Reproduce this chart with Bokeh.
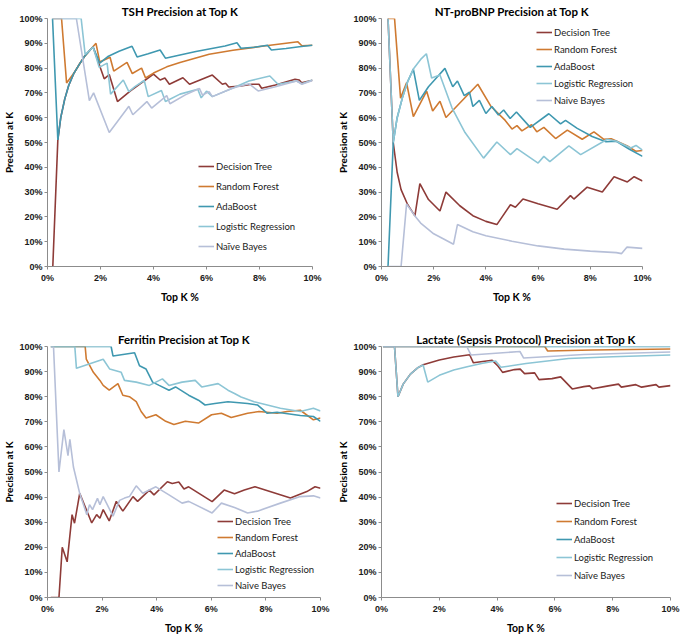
from bokeh.plotting import figure
from bokeh.layouts import row, column
from bokeh.models import Range1d, FixedTicker
from bokeh.embed import file_html
from bokeh.resources import INLINE

# ---------------- data ----------------
x_ticks = [0, 2, 4, 6, 8, 10]
x_tick_labels = ["0%", "2%", "4%", "6%", "8%", "10%"]
y_ticks = [0, 10, 20, 30, 40, 50, 60, 70, 80, 90, 100]
y_tick_labels = ["0%", "10%", "20%", "30%", "40%", "50%", "60%", "70%", "80%", "90%", "100%"]

models_a = ["Decision Tree", "Random Forest", "AdaBoost", "Logistic Regression", "Naïve Bayes"]
models_b = ["Decision Tree", "Random Forest", "AdaBoost", "Logistic Regression", "Naive Bayes"]
colors = ["#8E3B38", "#CF7A31", "#3F98B0", "#8CC5D5", "#B6BFD8"]

# TSH
tsh_dt_x = [0.2, 0.39, 0.5, 0.65, 0.8, 1.0, 1.2, 1.4, 1.6, 1.72, 2.14, 2.33, 2.64, 3.13, 3.6, 4.0, 4.25, 4.43, 4.6, 5.11, 5.36, 6.22, 6.6, 6.72, 6.84, 7.3, 7.71, 7.98, 8.08, 8.6, 9.34, 9.5, 9.59, 10.0]
tsh_dt_y = [0, 51, 60, 67.5, 73, 78, 81.5, 84.8, 87.2, 88.5, 75.7, 77.4, 66.5, 70.8, 74.5, 77.6, 75.2, 76, 73.5, 76.1, 73.5, 77.2, 73.5, 73.9, 72.4, 72.8, 73.5, 73.5, 71.9, 73.2, 75.5, 75.2, 74.1, 75.1]
tsh_rf_x = [0.19, 0.53, 0.72, 1.0, 1.2, 1.4, 1.6, 1.83, 1.97, 2.36, 2.5, 3.0, 3.2, 3.55, 3.7, 4.0, 4.5, 5.0, 5.5, 6.1, 7.0, 8.1, 9.0, 9.45, 9.6, 10.0]
tsh_rf_y = [100, 100, 74, 78, 81.5, 84.8, 87.2, 90, 82.5, 84.4, 78.8, 82.3, 77.8, 80, 76, 78, 80.5, 82.3, 83.8, 85.6, 87.2, 88.8, 90, 90.6, 89, 89.2]
tsh_ada_x = [0.19, 0.39, 0.5, 0.65, 0.8, 1.0, 1.2, 1.4, 1.6, 1.72, 1.97, 2.3, 2.7, 3.19, 3.38, 3.8, 4.25, 4.45, 5.0, 5.6, 6.2, 6.7, 7.15, 7.3, 7.8, 8.3, 8.45, 9.0, 9.5, 10.0]
tsh_ada_y = [100, 51, 60, 67.5, 73, 78, 81.5, 84.8, 87.2, 88.5, 82, 84.8, 86.8, 88.8, 84.5, 85.8, 87.3, 84, 85.3, 86.7, 87.9, 88.9, 90.2, 88, 88.4, 89.2, 87.3, 87.9, 88.6, 89.2]
tsh_lr_x = [0.19, 1.27, 1.42, 1.6, 1.72, 1.95, 2.25, 2.38, 2.86, 3.07, 3.3, 3.65, 3.8, 4.3, 4.45, 5.0, 5.67, 5.8, 6.0, 6.22, 7.0, 7.6, 8.39, 8.7, 9.4, 9.6, 10.0]
tsh_lr_y = [100, 100, 85.5, 87.2, 88.5, 80.3, 82, 69.5, 75.2, 70.5, 72.5, 75, 68.5, 71, 66.5, 69.5, 71.5, 68, 70.7, 68.5, 72, 74.8, 76.8, 73.5, 74.8, 73.7, 75.2]
tsh_nb_x = [0.19, 1.09, 1.58, 1.74, 2.33, 3.07, 3.22, 3.75, 3.93, 4.5, 4.62, 5.2, 5.73, 5.85, 6.1, 6.22, 7.0, 7.6, 7.95, 8.6, 9.4, 9.6, 10.0]
tsh_nb_y = [100, 100, 66.9, 70, 54, 64.6, 61.2, 66.5, 63.9, 68.9, 65.6, 69.2, 71.8, 69.1, 70.5, 68.5, 72, 73.7, 70.8, 72.5, 74.8, 73.5, 75]

# NT-proBNP
nt_dt_x = [0.25, 0.45, 0.6, 0.75, 1.0, 1.28, 1.47, 1.8, 2.24, 2.47, 3.0, 3.5, 4.0, 4.42, 4.94, 5.13, 5.42, 6.0, 6.73, 7.24, 7.37, 7.88, 8.46, 8.91, 9.42, 9.68, 10.0]
nt_dt_y = [100, 50, 38, 31, 25, 20.4, 33.4, 27, 22.4, 30, 24.5, 20.5, 18.2, 16.9, 24.9, 23.9, 27.2, 25.3, 23.1, 28.6, 27.2, 32, 30, 36.2, 34.1, 36.2, 34.5]
nt_rf_x = [0.25, 0.5, 0.73, 0.96, 1.22, 1.73, 1.96, 2.24, 2.47, 3.69, 4.2, 4.74, 5.0, 5.19, 5.38, 5.75, 5.95, 6.22, 6.67, 7.12, 7.69, 8.14, 8.52, 8.8, 9.42, 9.74, 10.0]
nt_rf_y = [100, 100, 67.9, 74.1, 60.4, 70.7, 62.7, 66.6, 60.1, 73.5, 64.5, 58.9, 55.4, 56.8, 54.7, 57.2, 54.3, 56.1, 51.6, 55, 51.3, 54.3, 51.3, 51.5, 48.6, 46.5, 46.8]
nt_ada_x = [0.25, 0.45, 0.6, 0.8, 1.0, 1.22, 1.45, 1.8, 2.1, 2.43, 2.73, 2.91, 3.17, 3.37, 3.5, 3.75, 4.0, 4.23, 4.48, 4.68, 4.93, 5.17, 5.7, 6.41, 6.86, 7.05, 7.5, 8.07, 8.6, 9.0, 9.5, 10.0]
nt_ada_y = [0, 50, 60, 68, 74.5, 79.6, 67, 72.5, 76, 79.9, 72.5, 74.8, 68.9, 70.3, 64.5, 67, 61.7, 64.5, 61.1, 63.1, 59.7, 62.3, 56.1, 61.6, 57.5, 58.9, 55.7, 52.4, 50.3, 50.5, 47.3, 44.4]
nt_lr_x = [0.25, 0.45, 0.6, 0.8, 1.0, 1.22, 1.5, 1.72, 1.92, 2.24, 2.7, 3.2, 3.91, 4.42, 4.94, 5.19, 6.0, 6.22, 6.45, 7.18, 7.63, 8.65, 9.0, 9.55, 9.75, 10.0]
nt_lr_y = [100, 50, 60, 68, 74.5, 79.6, 83.5, 85.8, 76, 77.2, 64, 54, 43.7, 50.2, 45.1, 47.5, 41.7, 44.4, 42.3, 48.6, 45.1, 51.3, 50.5, 47.8, 48.8, 46.9]
nt_nb_x = [0.25, 0.75, 0.96, 1.28, 1.5, 2.0, 2.4, 2.76, 2.91, 3.5, 4.0, 5.0, 6.0, 7.0, 8.0, 9.0, 9.2, 9.4, 10.0]
nt_nb_y = [0, 0, 25.2, 20.4, 17.5, 13.2, 11, 9, 16.9, 14, 12.4, 10.2, 8.3, 7, 6.2, 5.6, 5.2, 7.8, 7.3]

# Ferritin
fe_dt_x = [0.12, 0.42, 0.54, 0.72, 0.9, 0.99, 1.18, 1.62, 1.8, 1.92, 2.04, 2.26, 2.52, 2.76, 3.13, 3.3, 3.73, 3.9, 4.39, 4.57, 4.81, 5.0, 5.17, 6.03, 6.47, 6.85, 7.21, 7.6, 8.9, 9.5, 9.8, 10.0]
fe_dt_y = [0, 0, 20, 14.2, 33, 29.6, 41.5, 29.7, 33, 31.6, 35, 30.5, 38.3, 34.4, 40.2, 38.3, 42.8, 40.9, 46.1, 45.4, 46, 43.2, 44.1, 38.2, 42.8, 41.3, 42.8, 44.1, 39.6, 42.2, 44.1, 43.5]
fe_rf_x = [0.12, 1.38, 1.42, 1.68, 1.92, 2.04, 2.26, 2.58, 2.76, 3.0, 3.25, 3.43, 3.61, 3.97, 4.33, 4.63, 5.05, 5.53, 6.01, 6.37, 6.73, 7.33, 7.75, 8.41, 8.77, 9.26, 9.74, 10.0]
fe_rf_y = [100, 100, 95, 89.7, 86.5, 84.5, 82.6, 85.2, 80.6, 80, 78, 74.1, 71.5, 72.8, 70.2, 68.9, 70.2, 69.5, 72.8, 73.4, 71.7, 73.4, 74.1, 73.4, 74.1, 74.6, 70.8, 71.5]
fe_ada_x = [0.12, 2.33, 2.4, 3.19, 3.37, 3.61, 3.85, 4.09, 4.45, 4.69, 5.17, 5.53, 5.77, 6.13, 6.61, 7.33, 7.69, 8.05, 8.41, 9.26, 9.74, 10.0]
fe_ada_y = [100, 100, 96.2, 97.5, 92.3, 91, 85.8, 84.5, 82.6, 83.9, 80.6, 78.6, 76.7, 77.3, 78, 77.3, 76.7, 73.4, 73.8, 72.5, 72.1, 70.2]
fe_lr_x = [0.12, 1.0, 1.06, 2.04, 2.28, 2.7, 2.82, 3.25, 3.73, 4.21, 4.45, 4.93, 5.41, 5.65, 6.25, 6.61, 6.85, 7.09, 7.57, 8.05, 8.53, 9.26, 9.74, 10.0]
fe_lr_y = [100, 100, 91.3, 94.9, 91, 89.7, 86.5, 85.8, 84.5, 87.1, 84.5, 85.8, 86.5, 83.9, 85.2, 82.6, 81.3, 79.9, 78, 76.7, 75.4, 74.1, 75.4, 74.3]
fe_nb_x = [0.12, 0.22, 0.42, 0.6, 0.75, 0.82, 0.95, 1.18, 1.44, 1.54, 1.65, 1.83, 1.92, 2.04, 2.4, 2.64, 2.82, 3.0, 3.25, 3.49, 3.97, 4.45, 4.93, 5.17, 6.03, 6.37, 6.85, 7.33, 7.69, 8.53, 9.26, 9.74, 10.0]
fe_nb_y = [100, 100, 50, 66.9, 56.5, 63, 52, 41.5, 33, 37, 35, 39.5, 37, 40.2, 32.4, 38.7, 39.6, 40.2, 44.5, 41.5, 44.1, 40.9, 37.6, 38.3, 33.7, 37.6, 35.9, 33.7, 34.4, 37.6, 40.2, 40.5, 39.6]

# Lactate (Sepsis Protocol)
la_dt_x = [0.05, 0.45, 0.57, 0.75, 1.0, 1.25, 1.44, 2.0, 2.5, 3.05, 3.18, 3.83, 4.01, 4.19, 4.6, 4.8, 4.95, 5.3, 5.45, 5.9, 6.2, 6.6, 7.0, 7.2, 7.3, 7.8, 8.2, 8.3, 8.8, 9.0, 9.5, 9.6, 10.0]
la_dt_y = [100, 100, 80, 85, 89, 91.5, 92.7, 94.6, 95.8, 96.7, 93.5, 94.5, 92.5, 89.7, 90.8, 91.0, 89.2, 89.5, 86.8, 87.2, 87.9, 83.1, 84.0, 84.3, 83.2, 84.2, 85, 83.8, 84.8, 83.8, 84.8, 83.8, 84.4]
la_rf_x = [0.05, 5.65, 5.75, 7.3, 10.0]
la_rf_y = [100, 100, 98.2, 98.6, 99]
la_ada_x = [0.05, 10.0]
la_ada_y = [100, 100]
la_lr_x = [0.05, 0.45, 0.57, 0.75, 1.0, 1.25, 1.44, 1.6, 2.0, 2.5, 3.0, 3.5, 3.95, 4.13, 5.0, 6.47, 8.0, 10.0]
la_lr_y = [100, 100, 80, 85, 89, 91.5, 92.6, 85.8, 88.5, 90.6, 92, 93.3, 94.2, 91.7, 93.2, 95.2, 95.9, 96.6]
la_nb_x = [0.05, 2.95, 3.1, 4.79, 4.92, 7.0, 10.0]
la_nb_y = [100, 100, 96.6, 98, 95.4, 96.8, 97.8]

# ---------------- drawing ----------------
TITLE_FONT = "Lato"
TICK_FONT = "Liberation Sans"


def make_panel(title, series, names, width, height, borders, legend_xy, spacing):
    p = figure(width=width, height=height, output_backend="svg", toolbar_location=None,
               x_range=Range1d(0, 10), y_range=Range1d(0, 100),
               min_border_left=borders[0], min_border_right=borders[1],
               min_border_top=borders[2], min_border_bottom=borders[3])
    p.title.text = title
    p.title.align = "center"
    p.title.text_font = TITLE_FONT
    p.title.text_font_size = "11.5px"
    p.title.text_font_style = "bold"
    p.title.text_color = "#000000"
    p.title.standoff = 2
    p.outline_line_color = None
    p.grid.visible = False
    p.background_fill_color = "white"
    p.border_fill_color = "white"

    p.xaxis.ticker = FixedTicker(ticks=x_ticks)
    p.xaxis.major_label_overrides = dict(zip(x_ticks, x_tick_labels))
    p.yaxis.ticker = FixedTicker(ticks=y_ticks)
    p.yaxis.major_label_overrides = dict(zip(y_ticks, y_tick_labels))
    p.xaxis.axis_label = "Top K %"
    p.yaxis.axis_label = "Precision at K"
    for ax in (p.xaxis, p.yaxis):
        ax.axis_line_color = "#8C8C8C"
        ax.major_tick_line_color = "#8C8C8C"
        ax.minor_tick_line_color = None
        ax.major_tick_in = 0
        ax.major_tick_out = 3
        ax.major_label_text_font = TICK_FONT
        ax.major_label_text_font_size = "9px"
        ax.major_label_text_font_style = "bold"
        ax.major_label_text_color = "#1A1A1A"
        ax.major_label_standoff = 3
        ax.axis_label_text_font = TITLE_FONT
        ax.axis_label_text_font_size = "10.5px"
        ax.axis_label_text_font_style = "bold"
        ax.axis_label_text_color = "#000000"
        ax.axis_label_standoff = 5
    p.yaxis.major_label_standoff = 2
    p.yaxis.axis_label_standoff = 1
    p.yaxis.axis_label_text_font_size = "10px"

    for (xs, ys), name, col in zip(series, names, colors):
        p.line(xs, ys, line_color=col, line_width=1.6, legend_label=name)

    lg = p.legend[0]
    lg.location = legend_xy
    lg.label_text_font = TITLE_FONT
    lg.label_text_font_size = "9.5px"
    lg.label_text_color = "#1A1A1A"
    lg.glyph_width = 16
    lg.glyph_height = 12
    lg.label_height = 12
    lg.label_standoff = 2
    lg.spacing = spacing
    lg.padding = 0
    lg.margin = 0
    lg.border_line_color = None
    lg.background_fill_alpha = 0
    return p


# borders: (left, right, top, bottom)
p1 = make_panel("TSH Precision at Top K",
                [(tsh_dt_x, tsh_dt_y), (tsh_rf_x, tsh_rf_y), (tsh_ada_x, tsh_ada_y),
                 (tsh_lr_x, tsh_lr_y), (tsh_nb_x, tsh_nb_y)],
                models_a, 334, 312, (42, 22, 18, 46), (151, 14), 8)
p2 = make_panel("NT-proBNP Precision at Top K",
                [(nt_dt_x, nt_dt_y), (nt_rf_x, nt_rf_y), (nt_ada_x, nt_ada_y),
                 (nt_lr_x, nt_lr_y), (nt_nb_x, nt_nb_y)],
                models_b, 347, 312, (46, 39, 18, 46), (155, 160), 5)
p3 = make_panel("Ferritin Precision at Top K",
                [(fe_dt_x, fe_dt_y), (fe_rf_x, fe_rf_y), (fe_ada_x, fe_ada_y),
                 (fe_lr_x, fe_lr_y), (fe_nb_x, fe_nb_y)],
                models_b, 334, 324, (42, 14, 34, 39), (170, 6), 4)
p4 = make_panel("Lactate (Sepsis Protocol) Precision at Top K",
                [(la_dt_x, la_dt_y), (la_rf_x, la_rf_y), (la_ada_x, la_ada_y),
                 (la_lr_x, la_lr_y), (la_nb_x, la_nb_y)],
                models_a, 347, 324, (46, 11, 34, 39), (175, 16), 6)

layout = column(row(p1, p2, spacing=0), row(p3, p4, spacing=0), spacing=0)

with open("out.html", "w") as f:
    f.write(file_html(layout, INLINE))
